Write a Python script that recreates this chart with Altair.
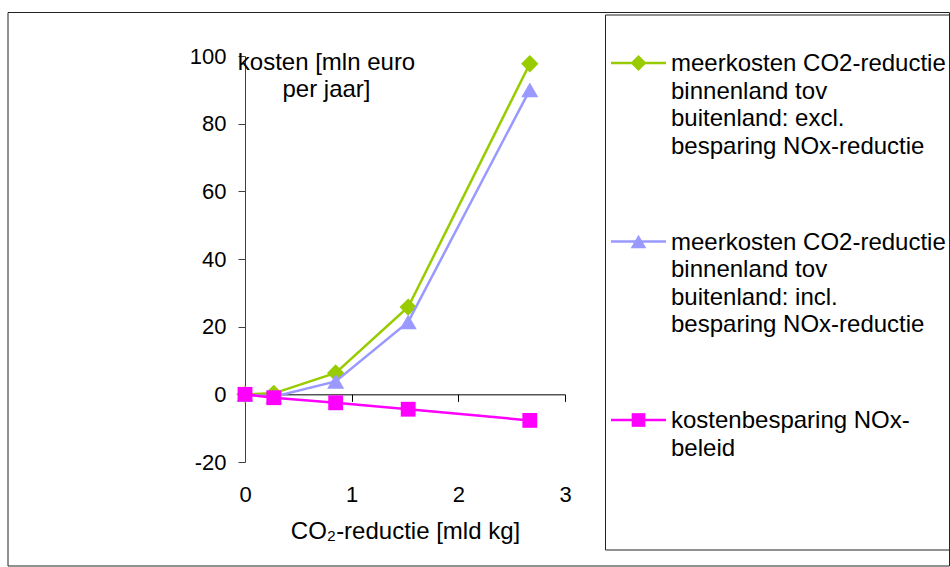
import altair as alt
import pandas as pd

# CO2 reduction (mld kg) for each step
co2_reductie = [0, 0.27, 0.85, 1.53, 2.67]

# Costs in mln euro per year
meerkosten_excl = [0, 0.3, 6.3, 25.8, 97.7]
meerkosten_incl = [0, -0.7, 3.8, 21.4, 90.0]
besparing_nox = [0, -1.0, -2.5, -4.4, -7.7]

series_values = [meerkosten_excl, meerkosten_incl, besparing_nox]
series_labels = [
    ["meerkosten CO2-reductie", "binnenland tov", "buitenland: excl.", "besparing NOx-reductie"],
    ["meerkosten CO2-reductie", "binnenland tov", "buitenland: incl.", "besparing NOx-reductie"],
    ["kostenbesparing NOx-", "beleid"],
]
series_colors = ["#99CC00", "#9999FF", "#FF00FF"]
series_shapes = ["diamond", "triangle-up", "square"]
series_sizes = [300, 290, 220]

x_ticks = [0, 1, 2, 3]
y_ticks = [-20, 0, 20, 40, 60, 80, 100]
y_title = ["kosten [mln euro", "per jaar]"]
x_title = "CO\u2082-reductie [mld kg]"

FONT = "Liberation Sans"

# plot-area geometry (pixels)
W, H = 320, 406
PAD = {"left": 245, "top": 56, "right": 950 - 245 - W, "bottom": 567 - 56 - H}
Y_MIN, Y_MAX = -20, 100
zero_offset = H * (0 - Y_MIN) / (Y_MAX - Y_MIN)  # distance of y=0 above the bottom edge

names = [" ".join(lines) for lines in series_labels]
rows = []
for name, vals in zip(names, series_values):
    for xv, yv in zip(co2_reductie, vals):
        rows.append({"serie": name, "co2": xv, "kosten": yv})
df = pd.DataFrame(rows)

x_enc = alt.X(
    "co2:Q",
    scale=alt.Scale(domain=[0, 3], nice=False, zero=False),
    axis=alt.Axis(
        orient="bottom",
        values=x_ticks,
        offset=-zero_offset,
        domainColor="#000000",
        domainWidth=1,
        tickColor="#000000",
        tickSize=7,
        labelPadding=83,
        labelFlush=False,
        labelFont=FONT,
        labelFontSize=22,
        labelColor="#000000",
        grid=False,
        title=x_title,
        titleFont=FONT,
        titleFontSize=24,
        titleFontWeight="normal",
        titleColor="#000000",
        titleAlign="center",
        titleBaseline="alphabetic",
        titleX=W / 2,
        titleY=144,
    ),
)
y_enc = alt.Y(
    "kosten:Q",
    scale=alt.Scale(domain=[Y_MIN, Y_MAX], nice=False, zero=False),
    axis=alt.Axis(
        orient="left",
        values=y_ticks,
        domainColor="#404040",
        domainWidth=1,
        tickColor="#404040",
        tickSize=7,
        labelPadding=12,
        labelFlush=False,
        labelFont=FONT,
        labelFontSize=22,
        labelColor="#000000",
        labelExpr="'' + datum.value",
        grid=False,
        title=y_title,
        titleFont=FONT,
        titleFontSize=24,
        titleFontWeight="normal",
        titleColor="#000000",
        titleAngle=0,
        titleAlign="center",
        titleBaseline="alphabetic",
        titleLineHeight=27,
        titleX=81,
        titleY=13,
    ),
)

base = alt.Chart(df)
layers = []
for name, color, shape, size in zip(names, series_colors, series_shapes, series_sizes):
    sub = base.transform_filter(alt.datum.serie == name)
    layers.append(sub.mark_line(color=color, strokeWidth=2.5).encode(x=x_enc, y=y_enc))
    layers.append(
        sub.mark_point(filled=True, shape=shape, size=size, color=color, opacity=1).encode(
            x=x_enc, y=y_enc
        )
    )

# frame around the whole figure and around the legend
one = pd.DataFrame({"k": [0]})
frame = alt.Chart(one).mark_rect(filled=False, color="#222222", strokeWidth=1).encode(
    x=alt.value(8 - PAD["left"]),
    x2=alt.value(949.5 - PAD["left"]),
    y=alt.value(12.5 - PAD["top"]),
    y2=alt.value(566 - PAD["top"]),
)
legend_box = alt.Chart(one).mark_rect(filled=False, color="#222222", strokeWidth=1).encode(
    x=alt.value(605.5 - PAD["left"]),
    x2=alt.value(949.5 - PAD["left"]),
    y=alt.value(15 - PAD["top"]),
    y2=alt.value(550 - PAD["top"]),
)

# legend entries
legend_layers = []
entry_y = [63, 241.5, 420]
for lines, color, shape, size, ey in zip(
    series_labels, series_colors, series_shapes, series_sizes, entry_y
):
    cy = ey - PAD["top"]
    legend_layers.append(
        alt.Chart(one).mark_rule(color=color, strokeWidth=2.5).encode(
            x=alt.value(611 - PAD["left"]), x2=alt.value(666 - PAD["left"]), y=alt.value(cy)
        )
    )
    legend_layers.append(
        alt.Chart(one).mark_point(filled=True, shape=shape, size=size * 0.85, color=color, opacity=1).encode(
            x=alt.value(638.5 - PAD["left"]), y=alt.value(cy)
        )
    )
    legend_layers.append(
        alt.Chart(one).mark_text(
            text="\n".join(lines),
            lineBreak="\n",
            lineHeight=27.5,
            align="left",
            baseline="alphabetic",
            font=FONT,
            fontSize=24,
            color="#000000",
        ).encode(x=alt.value(671 - PAD["left"]), y=alt.value(cy + 8))
    )

chart = (
    alt.layer(frame, legend_box, *layers, *legend_layers)
    .properties(
        width=W,
        height=H,
        padding=PAD,
        autosize=alt.AutoSizeParams(type="none"),
        background="#ffffff",
    )
    .configure_view(strokeWidth=0)
)

chart.save("out.html", embed_options={"renderer": "svg", "actions": False})
